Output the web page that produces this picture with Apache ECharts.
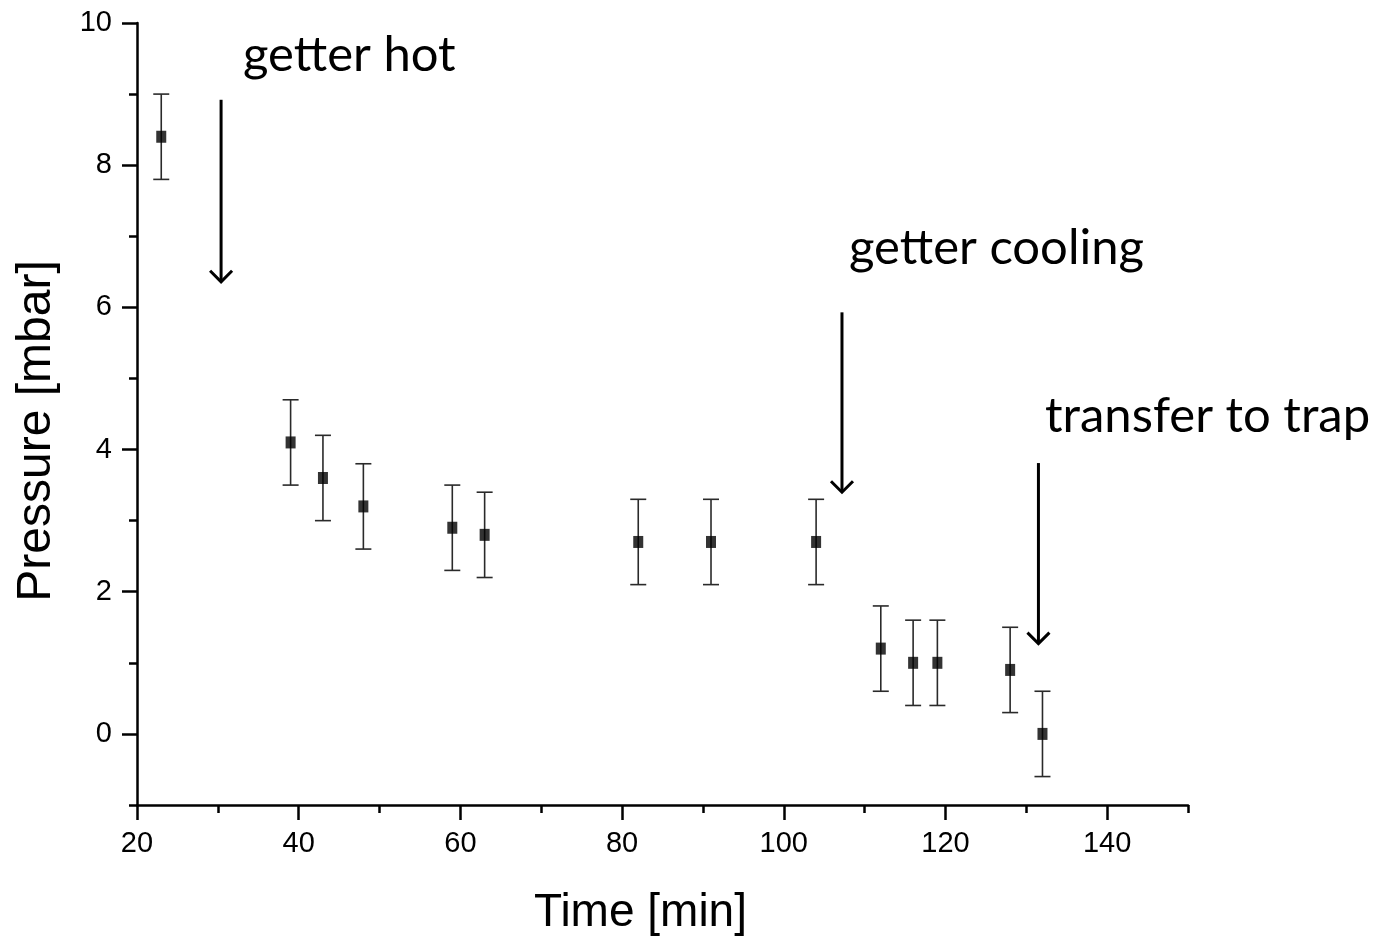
<!DOCTYPE html>
<html>
<head>
<meta charset="utf-8">
<script src="https://cdn.jsdelivr.net/npm/echarts@6/dist/echarts.min.js"></script>
<style>html,body{margin:0;padding:0;background:#fff}#main{width:1382px;height:940px}</style>
</head>
<body>
<div id="main"></div>
<script>
// measured points (time in min, pressure in mbar, error bar half height)
var time = [23, 39, 43, 48, 59, 63, 82, 91, 104, 112, 116, 119, 128, 132];
var pressure = [8.4, 4.1, 3.6, 3.2, 2.9, 2.8, 2.7, 2.7, 2.7, 1.2, 1.0, 1.0, 0.9, 0.0];
var errors = [0.6, 0.6, 0.6, 0.6, 0.6, 0.6, 0.6, 0.6, 0.6, 0.6, 0.6, 0.6, 0.6, 0.6];

var xMajor = [20, 40, 60, 80, 100, 120, 140];
var yMajor = [0, 2, 4, 6, 8, 10];

// annotation arrows (data coords)
var arrowX = [30.4, 107.2, 131.5];
var arrowTop = [8.92, 5.93, 3.81];
var arrowBottom = [6.36, 3.40, 1.27];
var notes = ['getter hot', 'getter cooling', 'transfer to trap'];

var tickFont = 'Liberation Sans, Arial, sans-serif';
var black = '#000';

var chart = echarts.init(document.getElementById('main'));

var option = {
    animation: false,
    backgroundColor: '#fff',
    grid: {left: 137, top: 23, width: 1051, height: 782, outerBoundsMode: 'none', containLabel: false},
    xAxis: [
        {
            type: 'value', min: 20, max: 150, position: 'bottom',
            name: 'Time [min]', nameLocation: 'middle', nameGap: 85,
            nameTextStyle: {fontSize: 46, color: black, fontFamily: tickFont, padding: [0, 44, 0, 0]},
            axisLine: {show: true, onZero: false, lineStyle: {color: black, width: 2.5}},
            axisTick: {show: true, customValues: xMajor, length: 15, lineStyle: {color: black, width: 2.5}},
            axisLabel: {customValues: xMajor, margin: 24, fontSize: 29, color: black, fontFamily: tickFont},
            splitLine: {show: false}
        },
        {
            // minor ticks only, moved down onto the bottom edge
            type: 'value', min: 20, max: 150, interval: 10, position: 'top', offset: -782,
            axisLine: {show: false, onZero: false},
            axisTick: {show: true, inside: true, length: 8, lineStyle: {color: black, width: 2.5}},
            axisLabel: {show: false},
            splitLine: {show: false}
        }
    ],
    yAxis: [
        {
            type: 'value', min: -1, max: 10, position: 'left',
            name: 'Pressure [mbar]', nameLocation: 'middle', nameGap: 76,
            nameTextStyle: {fontSize: 48, color: black, fontFamily: tickFont, padding: [0, 34, 0, 0]},
            axisLine: {show: true, onZero: false, lineStyle: {color: black, width: 2.5}},
            axisTick: {show: true, customValues: yMajor, length: 15, lineStyle: {color: black, width: 2.5}},
            axisLabel: {customValues: yMajor, margin: 25, fontSize: 29, color: black, fontFamily: tickFont},
            splitLine: {show: false}
        },
        {
            type: 'value', min: -1, max: 10, interval: 1, position: 'right', offset: -1051,
            axisLine: {show: false, onZero: false},
            axisTick: {show: true, inside: true, length: 8, lineStyle: {color: black, width: 2.5}},
            axisLabel: {show: false},
            splitLine: {show: false}
        }
    ],
    series: [
        {
            name: 'error',
            type: 'custom',
            xAxisIndex: 0, yAxisIndex: 0,
            encode: {x: 0, y: 1},
            data: time.map(function (t, i) { return [t, pressure[i], errors[i]]; }),
            renderItem: function (params, api) {
                var x = api.value(0), y = api.value(1), e = api.value(2);
                var top = api.coord([x, y + e]);
                var bot = api.coord([x, y - e]);
                var w = 8;
                var st = {stroke: '#2a2a2a', lineWidth: 1.6};
                return {
                    type: 'group',
                    children: [
                        {type: 'line', shape: {x1: top[0], y1: top[1], x2: bot[0], y2: bot[1]}, style: st},
                        {type: 'line', shape: {x1: top[0] - w, y1: top[1], x2: top[0] + w, y2: top[1]}, style: st},
                        {type: 'line', shape: {x1: bot[0] - w, y1: bot[1], x2: bot[0] + w, y2: bot[1]}, style: st}
                    ]
                };
            },
            z: 2
        },
        {
            name: 'Pressure',
            type: 'scatter',
            xAxisIndex: 0, yAxisIndex: 0,
            data: time.map(function (t, i) { return [t, pressure[i]]; }),
            symbol: 'rect',
            symbolSize: [10, 12],
            itemStyle: {color: black},
            z: 3
        },
        {
            name: 'arrows',
            type: 'custom',
            xAxisIndex: 0, yAxisIndex: 0,
            encode: {x: 0, y: 1},
            data: arrowX.map(function (x, i) { return [x, arrowTop[i], arrowBottom[i]]; }),
            renderItem: function (params, api) {
                var a = api.coord([api.value(0), api.value(1)]);
                var b = api.coord([api.value(0), api.value(2)]);
                var h = 11;
                var st = {stroke: black, lineWidth: 3, fill: null};
                return {
                    type: 'group',
                    children: [
                        {type: 'line', shape: {x1: a[0], y1: a[1], x2: b[0], y2: b[1] - 1}, style: st},
                        {type: 'polyline', shape: {points: [[b[0] - h, b[1] - h], [b[0], b[1]], [b[0] + h, b[1] - h]]}, style: st}
                    ]
                };
            },
            z: 4
        }
    ],
    graphic: [
        {type: 'text', left: 243, top: 31, style: {text: notes[0], font: '49px Lato', fill: black}},
        {type: 'text', left: 849, top: 224, style: {text: notes[1], font: '49px Lato', fill: black}},
        {type: 'text', left: 1045, top: 392, style: {text: notes[2], font: '49px Lato', fill: black}}
    ]
};

chart.setOption(option);
</script>
</body>
</html>
